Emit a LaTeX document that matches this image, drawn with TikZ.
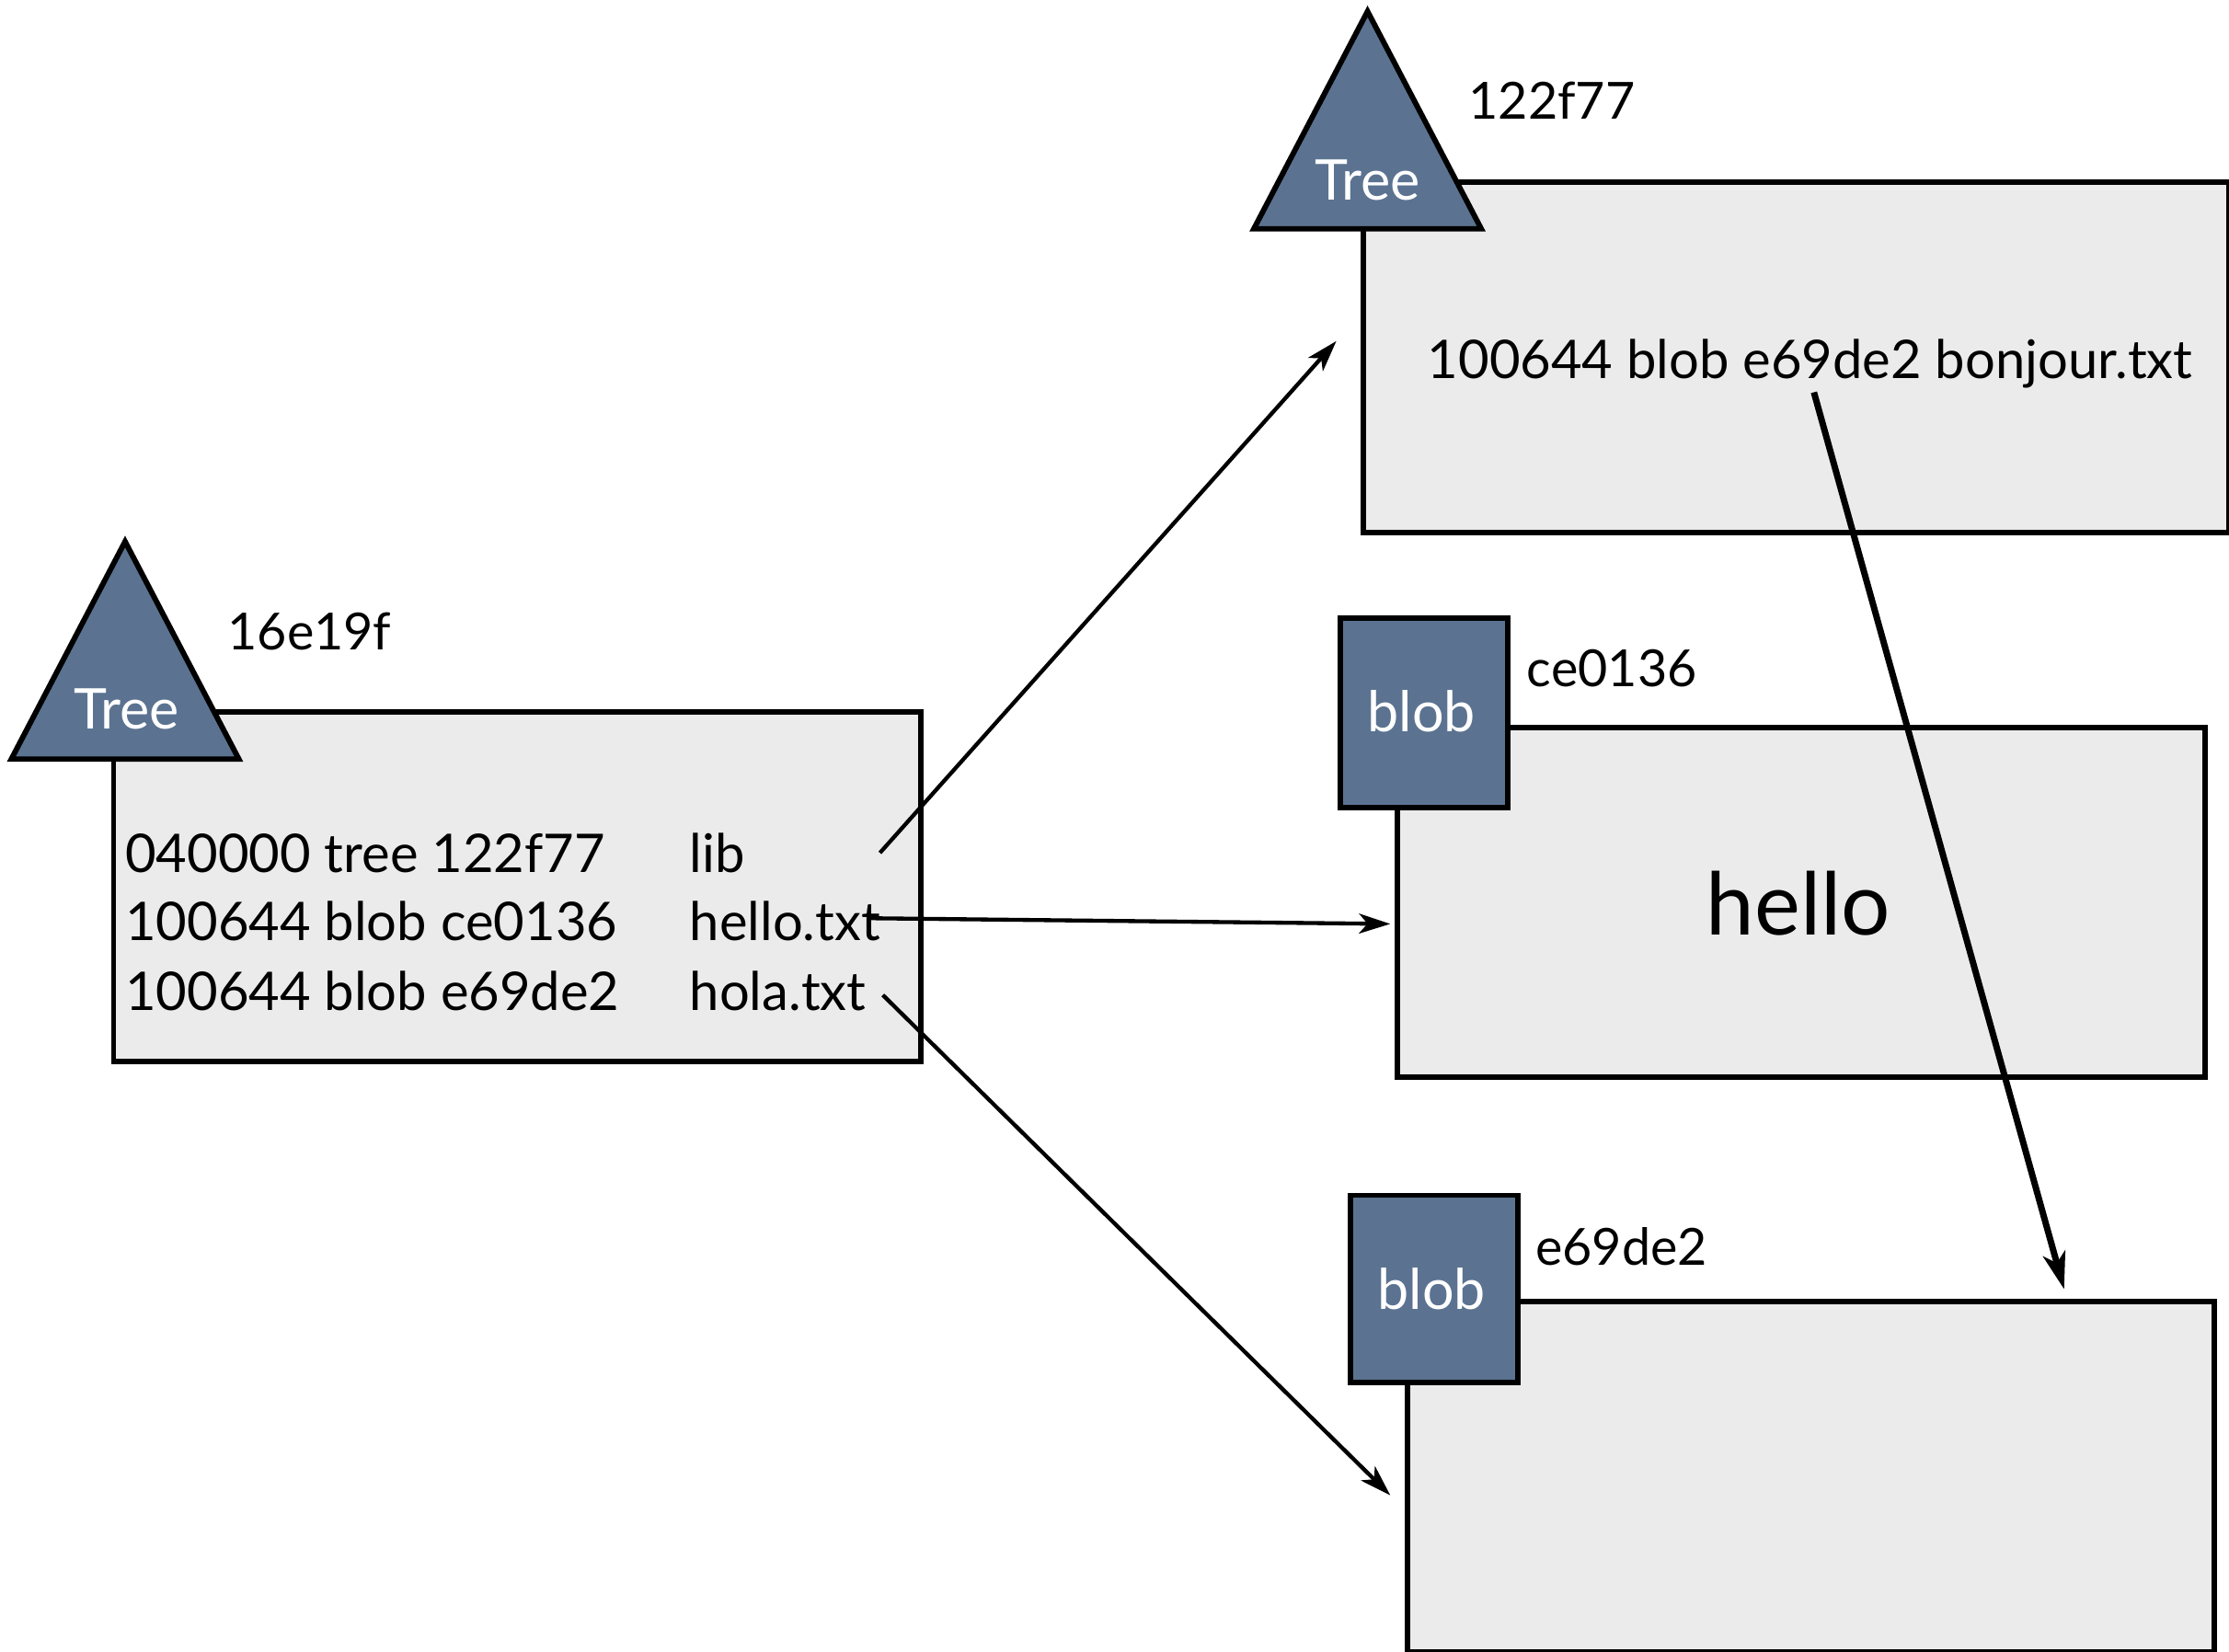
\documentclass[tikz,border=0pt]{standalone}
\usepackage{fontspec}
\setmainfont{Lato}
\usetikzlibrary{arrows.meta}
\definecolor{slate}{HTML}{5B7391}
\definecolor{boxgray}{HTML}{EBEBEB}
\tikzset{
  objbox/.style={draw=black, line width=3.8pt, fill=boxgray, inner sep=0pt, anchor=north west},
  tagbox/.style={draw=black, line width=3.8pt, fill=slate, inner sep=0pt, anchor=north west},
  treetri/.style={draw=black, line width=3.8pt, fill=slate, line join=miter},
  txt/.style={font=\fontsize{37.5}{42}\selectfont, inner sep=0pt, anchor=base west, text=black},
  lbltxt/.style={font=\fontsize{36}{40}\selectfont, inner sep=0pt, anchor=base west, text=black},
  wtxt/.style={font=\fontsize{39.5}{44}\selectfont, inner sep=0pt, anchor=base, text=white},
  bigtxt/.style={font=\fontsize{61}{66}\selectfont, inner sep=0pt, anchor=base, text=black},
  thinarrow/.style={line width=2.8pt, -{Stealth[length=22pt, width=14pt, inset=6pt]}},
  thickarrow/.style={line width=4.5pt, -{Stealth[length=26pt, width=16pt, inset=7pt]}}
}
\begin{document}
\begin{tikzpicture}[x=1pt,y=-1pt]
\useasboundingbox (0,0) rectangle (1568,1162);
% boxes
\node[objbox, minimum width=568pt, minimum height=246pt] (b1) at (78,499) {};
\node[objbox, minimum width=609pt, minimum height=247pt] (b2) at (957,126) {};
\node[objbox, minimum width=568pt, minimum height=246pt] (b3) at (981,510) {};
\node[objbox, minimum width=568pt, minimum height=246pt] (b4) at (988,914) {};
% tags
\draw[treetri] (88,381) -- (168,534) -- (8,534) -- cycle;
\draw[treetri] (962,8) -- (1042,161) -- (882,161) -- cycle;
\node[tagbox, minimum width=118pt, minimum height=133pt] (s1) at (941,433) {};
\node[tagbox, minimum width=118pt, minimum height=132pt] (s2) at (948,839) {};
\node[wtxt] (tt1) at (89,513) {Tree};
\node[wtxt] (tt2) at (962,141) {Tree};
\node[wtxt] (bl1) at (1000,515) {blob};
\node[wtxt] (bl2) at (1007,921) {blob};
% hash labels
\node[lbltxt] (h1) at (160,457) {16e19f};
\node[lbltxt] (h2) at (1033,84) {122f77};
\node[lbltxt] (h3) at (1074,483) {ce0136};
\node[lbltxt] (h4) at (1080,890) {e69de2};
% contents
\node[txt] (r1a) at (88,614) {040000 tree 122f77};
\node[txt] (r1b) at (485,614) {lib};
\node[txt] (r2a) at (88,662) {100644 blob ce0136};
\node[txt] (r2b) at (485,662) {hello.txt};
\node[txt] (r3a) at (88,711) {100644 blob e69de2};
\node[txt] (r3b) at (485,711) {hola.txt};
\node[txt] (bonj) at (1004,266) {100644 blob e69de2 bonjour.txt};
\node[bigtxt] (hello) at (1265,658) {hello};
% arrows
\coordinate (a1s) at (619,600);
\coordinate (a1e) at (940,240);
\coordinate (a2s) at (612,646);
\coordinate (a2e) at (978,650);
\coordinate (a3s) at (621,700);
\coordinate (a3e) at (978,1052);
\coordinate (a4s) at (1276,276);
\coordinate (a4e) at (1452,907);
\draw[thinarrow] (a1s) -- (a1e);
\draw[thinarrow] (a2s) -- (a2e);
\draw[thinarrow] (a3s) -- (a3e);
\draw[thickarrow] (a4s) -- (a4e);
\end{tikzpicture}
\end{document}
